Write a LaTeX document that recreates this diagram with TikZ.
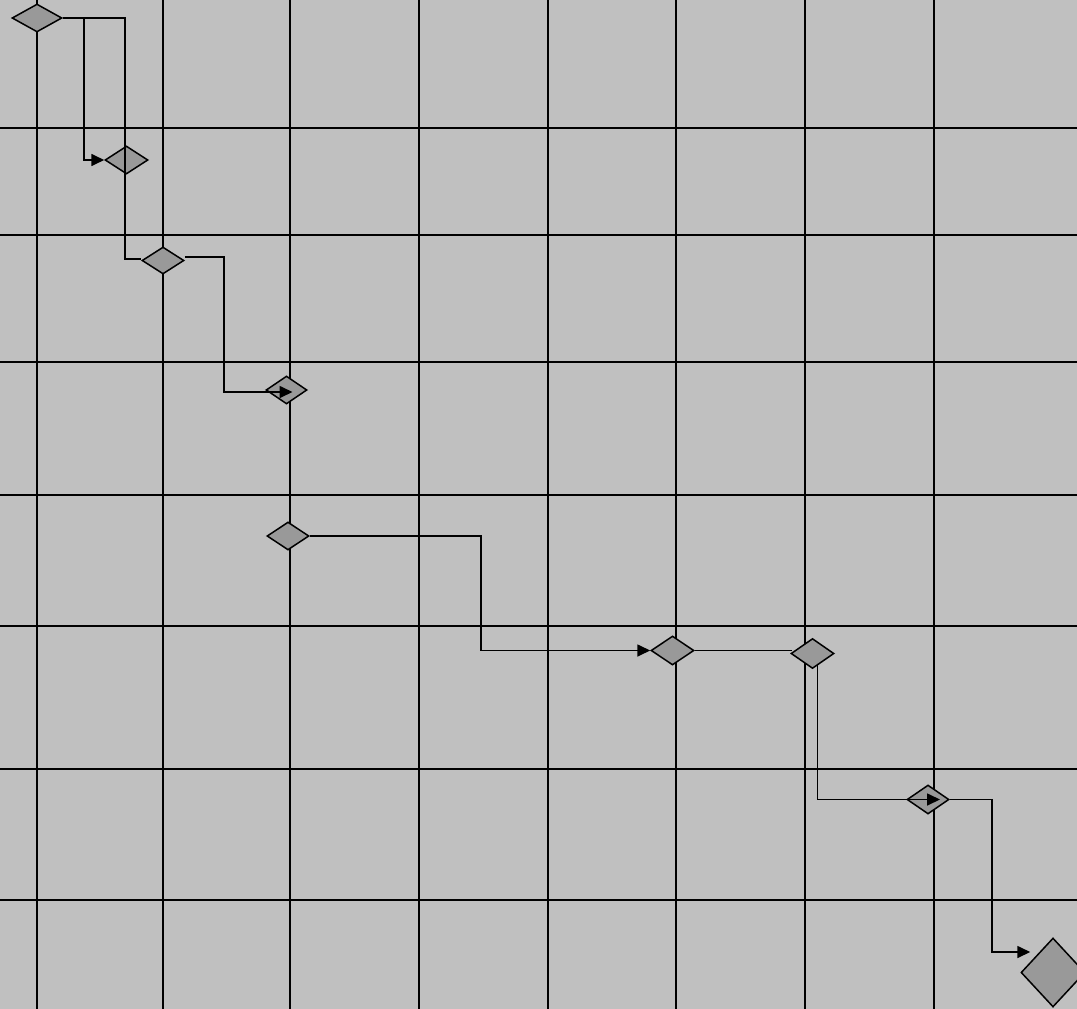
\documentclass[tikz,border=0pt]{standalone}
\usetikzlibrary{shapes.geometric,arrows.meta,calc}
\definecolor{bg}{HTML}{C0C0C0}
\definecolor{dfill}{HTML}{999999}
\begin{document}
\begin{tikzpicture}[x=1pt,y=-1pt,
  gridline/.style={line width=2.4pt,black},
  conn/.style={line width=1.7pt,black},
  arr/.style={conn,-{Triangle[length=13pt,width=12pt]}},
  dia/.style={diamond,draw=black,line width=1.5pt,fill=dfill,inner sep=0pt,aspect=1.5}]
\fill[bg] (0,0) rectangle (1077,1009);
\useasboundingbox (0,0) rectangle (1077,1009);
% grid
\foreach \x in {37,163,290,419,548,676,805,934} \draw[gridline] (\x,0) -- (\x,1009);
\foreach \y in {128,235,362,495,626,769,900} \draw[gridline] (0,\y) -- (1077,\y);
% diamonds
\node[dia,minimum width=50pt,minimum height=28pt] (d1) at (37,18) {};
\node[dia,minimum width=43pt,minimum height=28pt] (d2) at (126.5,160) {};
\node[dia,minimum width=42pt,minimum height=27pt] (d3) at (163,260.5) {};
\node[dia,minimum width=41pt,minimum height=28pt] (d4) at (286.5,390) {};
\node[dia,minimum width=42pt,minimum height=28pt] (d5) at (288,536) {};
\node[dia,minimum width=43pt,minimum height=29pt] (d6) at (672.5,650.5) {};
\node[dia,minimum width=43pt,minimum height=30pt] (d7) at (812.5,653.5) {};
\node[dia,minimum width=42pt,minimum height=29pt] (d8) at (928,799.5) {};
\node[dia,minimum width=64pt,minimum height=69pt] (d9) at (1053,972.5) {};
% connectors
\draw[arr] (d1.east) -- ++(21,0) |- (d2.west);
\draw[conn] (d1.east) -- ++(62,0) |- ($(d3.west)+(0,-1.5)$);
\draw[arr] ($(d3.east)+(0,-3.5)$) -- ++(39,0) |- ($(d4.center)+(6,2)$);
\draw[arr] (d5.east) -- ++(171,0) |- (d6.west);
\draw[conn] (d6.east) -- ($(d6.east -| d7.west)+(1.5,0)$);
\coordinate (c7) at ($(d7.center)+(5,11)$);
\draw[arr] (c7) |- ($(d8.center)+(12,0)$);
\draw[arr] (d8.east) -- ++(42,0) |- ($(d9.west)+(10,-20.5)$);
\end{tikzpicture}
\end{document}
